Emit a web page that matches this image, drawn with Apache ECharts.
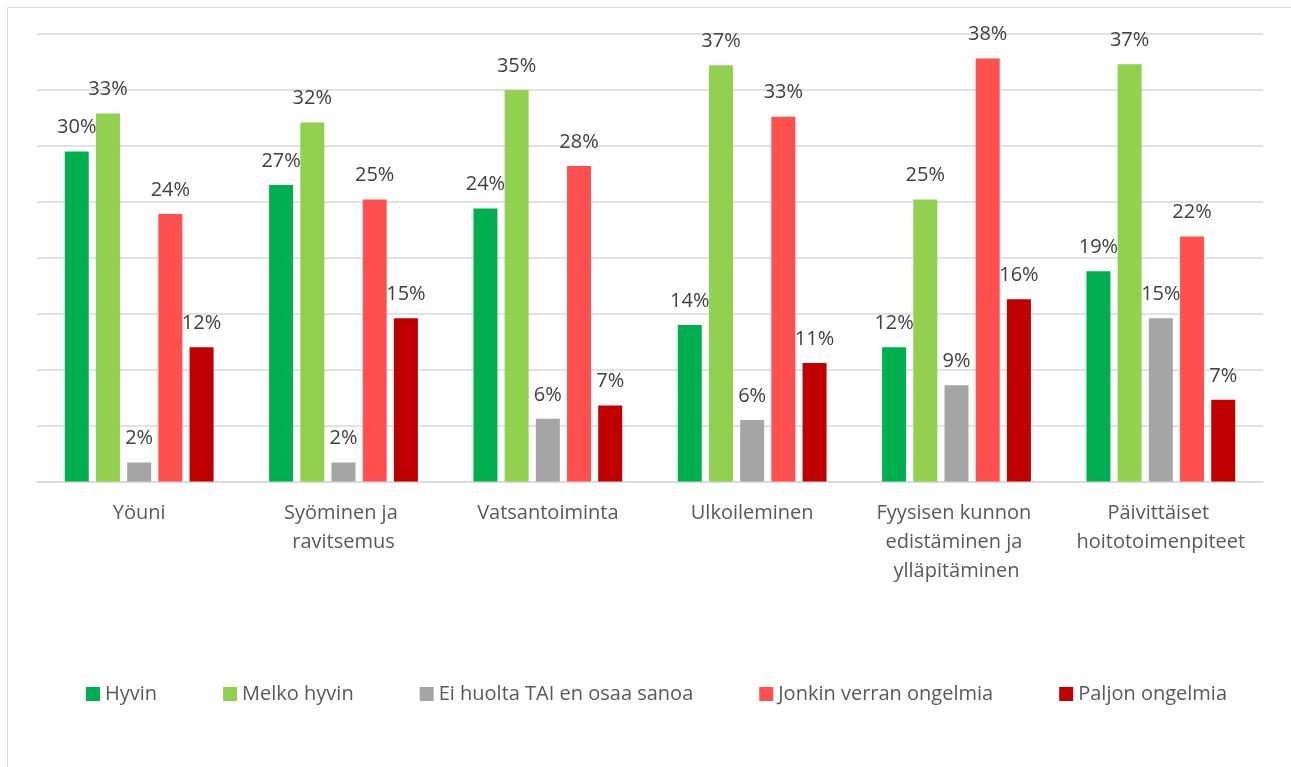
<!DOCTYPE html>
<html>
<head>
<meta charset="utf-8">
<script src="https://cdn.jsdelivr.net/npm/echarts@6/dist/echarts.min.js"></script>
<style>
  html, body { margin: 0; padding: 0; background: #fff; }
  #chart { width: 1291px; height: 767px; }
</style>
</head>
<body>
<div id="chart"></div>
<script>
// kategoriat
const categories = ['Yöuni', 'Syöminen ja ravitsemus', 'Vatsantoiminta', 'Ulkoileminen',
  'Fyysisen kunnon edistäminen ja ylläpitäminen', 'Päivittäiset hoitotoimenpiteet']
const seriesNames = ['Hyvin', 'Melko hyvin', 'Ei huolta TAI en osaa sanoa', 'Jonkin verran ongelmia', 'Paljon ongelmia']
// prosentit
const hyvin = [29.5, 26.5, 24.4, 14.0, 12.0, 18.8]
const melkoHyvin = [32.9, 32.1, 35.0, 37.2, 25.2, 37.3]
const eiHuolta = [1.7, 1.7, 5.6, 5.5, 8.6, 14.6]
const jonkinVerran = [23.9, 25.2, 28.2, 32.6, 37.8, 21.9]
const paljon = [12.0, 14.6, 6.8, 10.6, 16.3, 7.3]
const colors = ['#00b050', '#92d050', '#a5a5a5', '#ff5050', '#c00000']

const font = '"Open Sans", Lato, sans-serif'
const chart = echarts.init(document.getElementById('chart'))

const seriesData = [hyvin, melkoHyvin, eiHuolta, jonkinVerran, paljon]
const series = seriesData.map((d, i) => ({
  name: seriesNames[i],
  type: 'bar',
  data: d,
  barWidth: 24,
  barGap: '30%',
  itemStyle: { color: colors[i] },
  label: {
    show: true,
    position: 'top',
    distance: 14,
    color: '#404040',
    fontSize: 20,
    fontFamily: font,
    formatter: p => Math.round(p.value) + '%'
  }
}))

chart.setOption({
  animation: false,
  color: colors,
  grid: { left: 37, right: 28, top: 34, bottom: 285.5 },
  graphic: [{
    type: 'rect',
    shape: { x: 7.5, y: 7.5, width: 1400, height: 900 },
    style: { fill: 'none', stroke: '#d9d9d9', lineWidth: 1 },
    silent: true
  }],
  legend: {
    left: 81,
    top: 679,
    itemWidth: 14,
    itemHeight: 14,
    itemGap: 66,
    icon: 'rect',
    textStyle: { color: '#595959', fontSize: 20, fontFamily: font }
  },
  xAxis: {
    type: 'category',
    data: categories,
    axisLine: { lineStyle: { color: '#d9d9d9', width: 1.5 } },
    axisTick: { show: false },
    axisLabel: {
      interval: 0,
      margin: 17,
      color: '#595959',
      fontSize: 20,
      lineHeight: 29,
      fontFamily: font,
      width: 185,
      overflow: 'break'
    }
  },
  yAxis: {
    type: 'value',
    min: 0,
    max: 40,
    interval: 5,
    axisLabel: { show: false },
    axisLine: { show: false },
    axisTick: { show: false },
    splitLine: { lineStyle: { color: '#d9d9d9', width: 1.5 } }
  },
  series: series
})
</script>
</body>
</html>
